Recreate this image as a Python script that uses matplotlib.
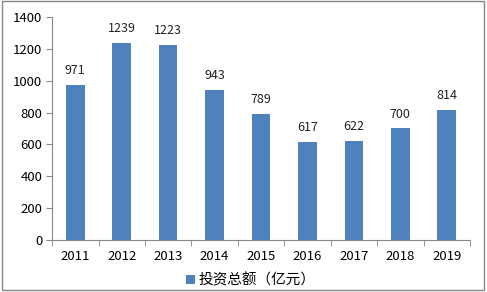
import matplotlib
matplotlib.use("Agg")
import matplotlib.pyplot as plt
from matplotlib.patches import Rectangle

plt.rcParams['font.family'] = ['Noto Sans CJK SC', 'DejaVu Sans']

years = ['2011', '2012', '2013', '2014', '2015', '2016', '2017', '2018', '2019']
values = [971, 1239, 1223, 943, 789, 617, 622, 700, 814]
series_name = '投资总额（亿元）'

fig = plt.figure(figsize=(4.87, 2.92), dpi=100)
ax = fig.add_axes([0.107, 0.178, 0.858, 0.764])

x = range(len(years))
bars = ax.bar(x, values, width=0.4, color='#4F81BD', label=series_name, zorder=2)
for xi, v in zip(x, values):
    ax.text(xi, v + 50, str(v), ha='center', va='bottom', fontsize=9, color='#222222')

ax.set_xlim(-0.5, len(years) - 0.5)
ax.set_ylim(0, 1400)
ax.set_yticks(range(0, 1401, 200))
ax.set_xticks(x)
ax.set_xticklabels(years, fontsize=9.5)
ax.tick_params(axis='y', labelsize=9.5, length=4, color='#888888', pad=3)
ax.tick_params(axis='x', length=0, pad=7)
ax.set_xticks([i - 0.5 for i in range(len(years) + 1)], minor=True)
ax.tick_params(axis='x', which='minor', length=4, color='#888888')

for s in ['top', 'right']:
    ax.spines[s].set_visible(False)
ax.spines['left'].set_color('#888888')
ax.spines['bottom'].set_color('#888888')

fig.legend(handles=[bars], labels=[series_name], loc='center', bbox_to_anchor=(0.515, 0.04),
           frameon=False, fontsize=10.5, handlelength=0.6, handleheight=0.6, handletextpad=0.2)

fig.patches.append(Rectangle((0.004, 0.006), 0.99, 0.99, transform=fig.transFigure,
                             fill=False, edgecolor='#888888', linewidth=1))

fig.savefig('out.png', dpi=100)
